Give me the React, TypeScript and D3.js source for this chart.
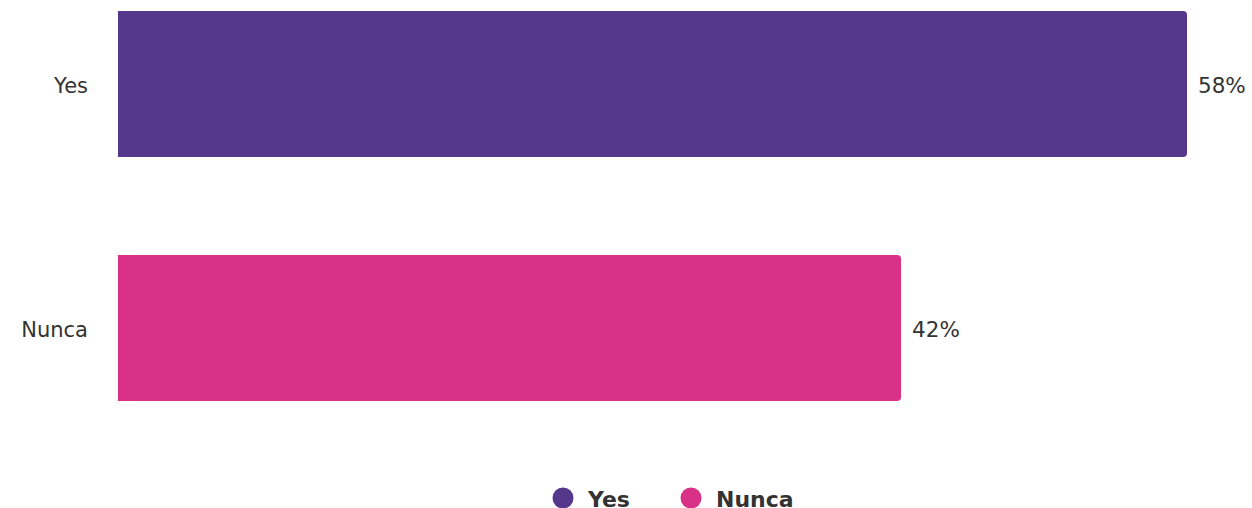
import React from "react";
import * as d3 from "d3";

const categories = ["Yes", "Nunca"];
const values = [57.72, 42.28];
const valueLabels = ["58%", "42%"];
const colors = ["#55378b", "#d83187"];

const W = 1252;
const H = 508;

function barPath(x0: number, x1: number, y0: number, h: number, r: number) {
  const p = d3.path();
  p.moveTo(x0, y0);
  p.lineTo(x1 - r, y0);
  p.arcTo(x1, y0, x1, y0 + r, r);
  p.lineTo(x1, y0 + h - r);
  p.arcTo(x1, y0 + h, x1 - r, y0 + h, r);
  p.lineTo(x0, y0 + h);
  p.closePath();
  return p.toString();
}

export default function App() {
  const x = d3.scaleLinear().domain([0, d3.max(values) as number]).range([118, 1187]);
  const y = d3.scaleBand<string>().domain(categories).range([11, 401]).paddingInner(0.4016).paddingOuter(0);
  const font = "'DejaVu Sans', Verdana, sans-serif";
  const legendX = [563, 691];
  return (
    <svg width={W} height={H} style={{ position: "absolute", left: 0, top: 0, display: "block" }} fontFamily={font}>
      {categories.map((c, i) => {
        const y0 = y(c) as number;
        const bh = y.bandwidth();
        return (
          <g key={c}>
            <path d={barPath(x(0), x(values[i]), y0, bh, 4)} fill={colors[i]} />
            <text x={88} y={y0 + bh / 2} dy="0.42em" textAnchor="end" fontSize={21} fill="#333">{c}</text>
            <text x={x(values[i]) + 11} y={y0 + bh / 2} dy="0.42em" fontSize={21.5} fill="#333">{valueLabels[i]}</text>
          </g>
        );
      })}
      {categories.map((c, i) => (
        <g key={"lg" + c}>
          <circle cx={legendX[i]} cy={498} r={10.5} fill={colors[i]} />
          <text x={legendX[i] + 25} y={506.5} fontSize={22} fontWeight="bold" fill="#333">{c}</text>
        </g>
      ))}
    </svg>
  );
}
